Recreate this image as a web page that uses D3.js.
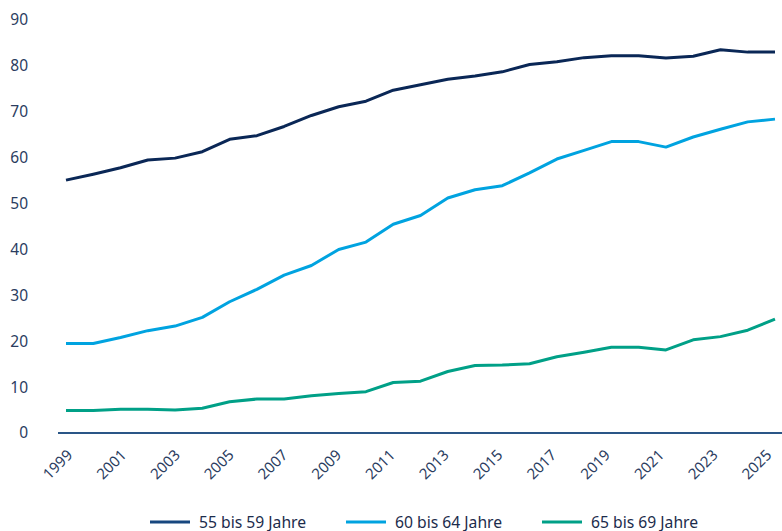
<!DOCTYPE html>
<html><head><meta charset="utf-8">
<script src="https://cdn.jsdelivr.net/npm/d3@7"></script>
<style>body{margin:0;background:#fff}svg{display:block}text{font-family:"Noto Sans",sans-serif}</style>
</head><body><svg id="c" width="782" height="531"></svg>
<script>
const years = d3.range(1999, 2026);
const tickYears = [1999,2001,2003,2005,2007,2009,2011,2013,2015,2017,2019,2021,2023,2025];
const yTicks = [0,10,20,30,40,50,60,70,80,90];
const seriesNames = ["55 bis 59 Jahre","60 bis 64 Jahre","65 bis 69 Jahre"];
const s55 = [55.1,56.4,57.8,59.5,59.9,61.3,64.0,64.8,66.8,69.2,71.1,72.3,74.7,75.9,77.1,77.8,78.7,80.3,80.9,81.8,82.2,82.2,81.7,82.1,83.5,83.0,83.0];
const s60 = [19.5,19.5,20.8,22.3,23.3,25.2,28.6,31.3,34.4,36.5,40.0,41.6,45.5,47.4,51.2,53.0,53.9,56.7,59.7,61.6,63.5,63.5,62.3,64.5,66.2,67.8,68.4];
const s65 = [4.9,4.9,5.2,5.2,5.0,5.4,6.8,7.4,7.4,8.1,8.6,9.0,11.0,11.3,13.4,14.7,14.8,15.1,16.6,17.6,18.7,18.7,18.1,20.3,21.0,22.4,24.8];
const lineColors = ["#0a2756","#00a3e0","#00a087"];
const legendColors = ["#17477f","#00a3e0","#00a087"];

const svg = d3.select("#c");
const x = d3.scalePoint().domain(years).range([66, 775]);
const xLab = d3.scalePoint().domain(years).range([73, 772]);
const y = d3.scaleLinear().domain([0, 90]).range([433, 20]);
const textColor = "#2b3d5f";
const fs = 15.5;

// y labels
svg.append("g").selectAll("text").data(yTicks).join("text")
  .attr("x", 28).attr("y", d => y(d)).attr("dy", "0.35em")
  .attr("text-anchor", "end").attr("font-size", fs).attr("fill", textColor).text(d => d);

// x axis labels
const xa = svg.append("g").attr("transform", "translate(0,433)")
  .call(d3.axisBottom(xLab).tickValues(tickYears).tickSize(0).tickPadding(0));
xa.select(".domain").remove();
xa.selectAll("text").attr("font-size", 15).attr("fill", textColor)
  .attr("text-anchor", "end").attr("dy", null).attr("y", 0)
  .attr("transform", "translate(0,23) rotate(-45)");
svg.append("line").attr("x1", 58).attr("x2", 782).attr("y1", 433).attr("y2", 433)
  .attr("stroke", "#2a5687").attr("stroke-width", 2);

const series = [s55, s60, s65];
const line = d3.line().x((d, i) => x(years[i])).y(d => y(d));
svg.append("g").selectAll("path").data(series).join("path")
  .attr("d", line).attr("fill", "none").attr("stroke", (d, i) => lineColors[i])
  .attr("stroke-width", 3).attr("stroke-linejoin", "round");

// legend
const legX = [150, 346, 542];
const lg = svg.append("g").selectAll("g").data(seriesNames).join("g")
  .attr("transform", (d, i) => `translate(${legX[i]},522)`);
lg.append("line").attr("x1", 0).attr("x2", 40).attr("stroke", (d, i) => legendColors[i]).attr("stroke-width", 3);
lg.append("text").attr("x", 49).attr("dy", "0.35em").attr("font-size", 15.7).attr("fill", "#1c2c4c").text(d => d);
</script></body></html>
